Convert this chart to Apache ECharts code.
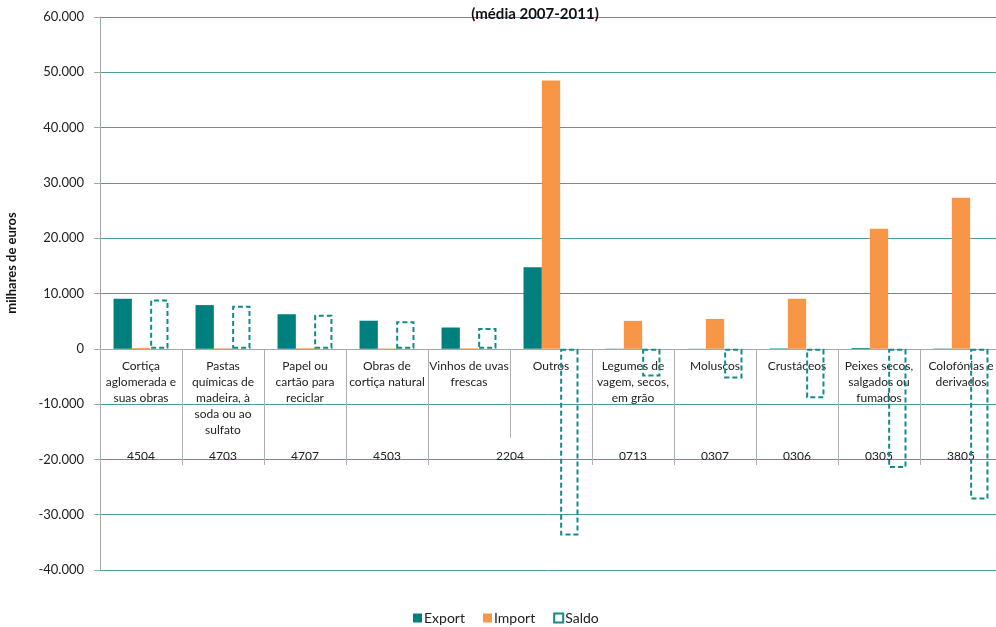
<!DOCTYPE html>
<html>
<head>
<meta charset="utf-8">
<script src="https://cdn.jsdelivr.net/npm/echarts@6/dist/echarts.min.js"></script>
<style>html,body{margin:0;padding:0;background:#fff}#c{width:996px;height:627px}</style>
</head>
<body>
<div id="c"></div>
<script>
var categories = [
  "Cortiça\naglomerada e\nsuas obras",
  "Pastas\nquímicas de\nmadeira, à\nsoda ou ao\nsulfato",
  "Papel ou\ncartão para\nreciclar",
  "Obras de\ncortiça natural",
  "Vinhos de uvas\nfrescas",
  "Outros",
  "Legumes de\nvagem, secos,\nem grão",
  "Moluscos",
  "Crustáceos",
  "Peixes secos,\nsalgados ou\nfumados",
  "Colofónias e\nderivados"
];
var codes = ["4504","4703","4707","4503","2204","","0713","0307","0306","0305","3805"];
var exportValues = [9050, 7900, 6250, 5080, 3850, 14750, 40, 30, 80, 150, 60];
var importValues = [150, 100, 120, 80, 100, 48500, 5050, 5400, 9050, 21700, 27300];
var saldoValues = [8900, 7800, 6150, 5000, 3750, -33750, -5000, -5350, -8950, -21550, -27250];
var yTicks = { min: -40000, max: 60000, interval: 10000 };

var FONT = "Lato, 'Open Sans', sans-serif";
function fmt(v) {
  var s = Math.abs(v).toString().replace(/\B(?=(\d{3})+(?!\d))/g, ".");
  return (v < 0 ? "-" : "") + s;
}

var chart = echarts.init(document.getElementById("c"));
chart.setOption({
  animation: false,
  textStyle: { fontFamily: FONT },
  title: {
    text: "(média 2007-2011)",
    left: 530, top: 2, textAlign: "center",
    textStyle: { fontFamily: FONT, fontSize: 15, fontWeight: "bold", color: "#111" }
  },
  graphic: [{
    type: "text", x: 12, y: 263, rotation: Math.PI / 2,
    style: { text: "milhares de euros", fontFamily: FONT, fontSize: 13, fontWeight: "bold",
      fill: "#111", align: "center", verticalAlign: "middle" }
  }],
  legend: {
    top: 611, left: 413, padding: 0, itemWidth: 9, itemHeight: 9, itemGap: 18,
    textStyle: { fontFamily: FONT, fontSize: 14, color: "#222", padding: [0, 0, 0, -3] },
    data: [
      { name: "Export", icon: "rect" },
      { name: "Import", icon: "rect" },
      { name: "Saldo", icon: "rect" }
    ]
  },
  grid: { left: 100, top: 17, width: 902, bottom: 57, containLabel: false, outerBoundsMode: "none" },
  xAxis: [{
    type: "category", data: categories, position: "bottom", offset: -221,
    axisLine: { show: true, onZero: false, lineStyle: { color: "#a6a6a6", width: 1 } },
    axisTick: { show: true, length: 89, interval: 0, lineStyle: { color: "#b0b0b0" } },
    axisLabel: { interval: 0, margin: 9, fontFamily: FONT, fontSize: 12, color: "#222", lineHeight: 16 },
    splitLine: { show: false }
  }, {
    type: "category", data: codes, position: "bottom", offset: -132,
    axisLine: { show: false, onZero: false },
    axisTick: { show: true, length: 27, lineStyle: { color: "#b0b0b0" },
      interval: function (i) { return i !== 5; } },
    axisLabel: { interval: 0, margin: 12, fontFamily: FONT, fontSize: 12, color: "#222",
      formatter: function (v, i) { return i === 4 ? "{s|" + v + "}" : v; },
      rich: { s: { padding: [0, 0, 0, 82], fontFamily: FONT, fontSize: 12, color: "#222" } } }
  }],
  yAxis: {
    type: "value", min: yTicks.min, max: yTicks.max, interval: yTicks.interval,
    axisLine: { show: true, lineStyle: { color: "#a6a6a6" } },
    axisTick: { show: true, length: 6, lineStyle: { color: "#a6a6a6" } },
    axisLabel: { margin: 16, fontFamily: FONT, fontSize: 13, color: "#222", formatter: fmt },
    splitLine: { lineStyle: { color: "#4a9e9e", width: 1 } }
  },
  series: [{
    name: "Export", type: "bar", data: exportValues, barGap: "0%", barCategoryGap: "33%",
    itemStyle: { color: "#007f7f" }
  }, {
    name: "Import", type: "bar", data: importValues,
    itemStyle: { color: "#f79646" }
  }, {
    name: "Saldo", type: "bar", data: saldoValues,
    itemStyle: { color: "rgba(0,0,0,0)", borderColor: "#138a8a", borderWidth: 2, borderType: [5, 3] }
  }]
});
</script>
</body>
</html>
